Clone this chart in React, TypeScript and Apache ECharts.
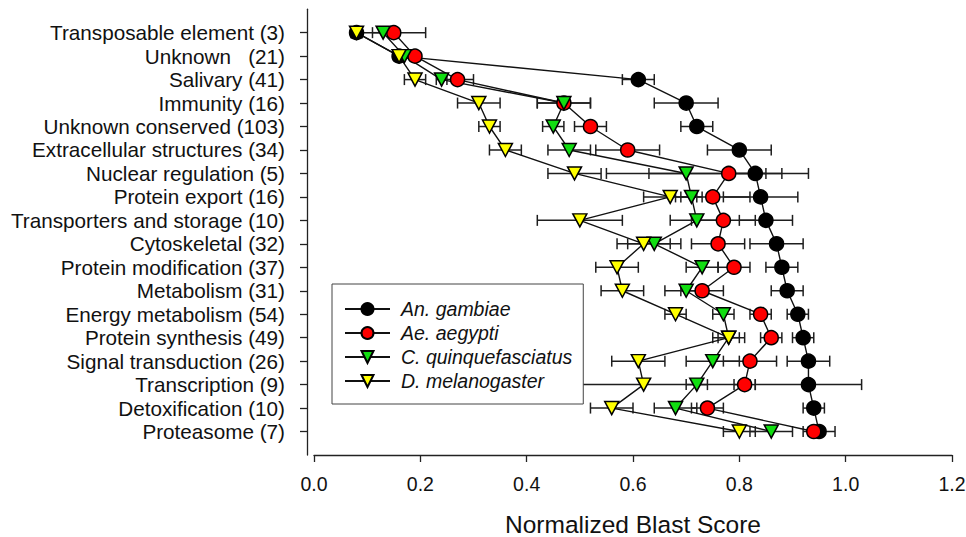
import React, { useEffect, useRef } from 'react';
import * as echarts from 'echarts';

const categories = [
  'Transposable element (3)',
  'Unknown   (21)',
  'Salivary (41)',
  'Immunity (16)',
  'Unknown conserved (103)',
  'Extracellular structures (34)',
  'Nuclear regulation (5)',
  'Protein export (16)',
  'Transporters and storage (10)',
  'Cytoskeletal (32)',
  'Protein modification (37)',
  'Metabolism (31)',
  'Energy metabolism (54)',
  'Protein synthesis (49)',
  'Signal transduction (26)',
  'Transcription (9)',
  'Detoxification (10)',
  'Proteasome (7)',
];

const seriesNames = ['An. gambiae', 'Ae. aegypti', 'C. quinquefasciatus', 'D. melanogaster'];

const gambiae = [0.08, 0.16, 0.61, 0.70, 0.72, 0.80, 0.83, 0.84, 0.85, 0.87, 0.88, 0.89, 0.91, 0.92, 0.93, 0.93, 0.94, 0.95];
const gambiaeErr = [0.01, 0, 0.03, 0.06, 0.03, 0.06, 0.05, 0.07, 0.05, 0.05, 0.03, 0.03, 0.02, 0.02, 0.04, 0.10, 0.02, 0.03];

const aegypti = [0.15, 0.19, 0.27, 0.47, 0.52, 0.59, 0.78, 0.75, 0.77, 0.76, 0.79, 0.73, 0.84, 0.86, 0.82, 0.81, 0.74, 0.94];
const aegyptiErr = [0.06, 0, 0.03, 0.05, 0.03, 0.06, 0.15, 0.07, 0.06, 0.05, 0.03, 0.04, 0.02, 0.02, 0.05, 0.02, 0.03, 0.01];

const quinque = [0.13, 0.17, 0.24, 0.47, 0.45, 0.48, 0.70, 0.71, 0.72, 0.64, 0.73, 0.70, 0.77, 0.78, 0.75, 0.72, 0.68, 0.86];
const quinqueErr = [0.02, 0, 0.01, 0.05, 0.02, 0.04, 0.15, 0.02, 0.05, 0.05, 0.03, 0.04, 0.02, 0.02, 0.05, 0.02, 0.04, 0.04];

const melano = [0.08, 0.16, 0.19, 0.31, 0.33, 0.36, 0.49, 0.67, 0.50, 0.62, 0.57, 0.58, 0.68, 0.78, 0.61, 0.62, 0.56, 0.80];
const melanoErr = [0.01, 0, 0.02, 0.04, 0.02, 0.03, 0.05, 0.05, 0.08, 0.05, 0.04, 0.04, 0.02, 0.03, 0.05, 0.20, 0.04, 0.03];

const xTicks = [0, 0.2, 0.4, 0.6, 0.8, 1.0, 1.2];

const FONT = '"Liberation Sans", Arial, Helvetica, sans-serif';
const AXIS = '#222';
const TEXT = '#111';

export default function App() {
  const ref = useRef<HTMLDivElement>(null);

  useEffect(() => {
    document.body.style.margin = '0';
    const chart = echarts.init(ref.current!, null, { renderer: 'svg' });
    const rows = categories.map((_, i) => i + 1);
    const pts = (vals: number[]) => vals.map((v, i) => [v, i + 1]);
    const errData = (vals: number[], errs: number[]) => vals.map((v, i) => [v, i + 1, errs[i]]);

    const errSeries = (name: string, vals: number[], errs: number[]) => ({
      type: 'custom',
      name,
      data: errData(vals, errs),
      encode: { x: 0, y: 1 },
      z: 1,
      silent: true,
      renderItem: (_params: any, api: any) => {
        const x = api.value(0);
        const y = api.value(1);
        const e = api.value(2);
        if (!e) return { type: 'group', children: [] };
        const p1 = api.coord([x - e, y]);
        const p2 = api.coord([x + e, y]);
        const h = 5.5;
        const style = { stroke: '#1e1e1e', lineWidth: 1.5 };
        return {
          type: 'group',
          children: [
            { type: 'line', shape: { x1: p1[0], y1: p1[1], x2: p2[0], y2: p2[1] }, style },
            { type: 'line', shape: { x1: p1[0], y1: p1[1] - h, x2: p1[0], y2: p1[1] + h }, style },
            { type: 'line', shape: { x1: p2[0], y1: p2[1] - h, x2: p2[0], y2: p2[1] + h }, style },
          ],
        };
      },
    });

    const lineSeries = (name: string, vals: number[], fill: string, symbol: string) => ({
      type: 'line',
      name,
      data: pts(vals),
      symbol,
      symbolSize: symbol === 'circle' ? 14 : [14, 13],
      symbolRotate: symbol === 'circle' ? 0 : 180,
      showAllSymbol: true,
      z: 3,
      lineStyle: { color: '#111', width: 1.4 },
      itemStyle: { color: fill, borderColor: '#000', borderWidth: 1.5 },
      emphasis: { disabled: true },
    });

    const option: any = {
      animation: false,
      grid: { left: 314, top: 9.2, width: 638, height: 445.8, outerBoundsMode: 'none' },
      legend: {
        data: seriesNames,
        orient: 'vertical',
        left: 332,
        top: 284,
        backgroundColor: '#fff',
        borderColor: '#444',
        borderWidth: 1,
        borderRadius: 0,
        padding: [15, 11, 13, 12],
        itemWidth: 45,
        itemHeight: 15,
        itemGap: 4,
        selectedMode: false,
        textStyle: {
          fontFamily: FONT,
          fontSize: 19.5,
          fontStyle: 'italic',
          color: TEXT,
          padding: [0, 0, 0, 6],
        },
      },
      xAxis: {
        type: 'value',
        min: 0,
        max: 1.2,
        interval: 0.2,
        position: 'bottom',
        splitLine: { show: false },
        axisLine: { show: true, onZero: false, lineStyle: { color: AXIS, width: 1.3 } },
        axisTick: { show: true, length: 7, lineStyle: { color: AXIS, width: 1.3 } },
        axisLabel: {
          customValues: xTicks,
          formatter: (v: number) => v.toFixed(1),
          fontFamily: FONT,
          fontSize: 19.5,
          color: TEXT,
          margin: 19,
        },
        name: 'Normalized Blast Score',
        nameLocation: 'middle',
        nameGap: 57,
        nameTextStyle: { fontFamily: FONT, fontSize: 24.5, color: TEXT },
      },
      yAxis: {
        type: 'value',
        min: 0,
        max: 19,
        inverse: true,
        offset: 7,
        splitLine: { show: false },
        axisLine: { show: true, onZero: false, lineStyle: { color: AXIS, width: 1.3 } },
        axisTick: { show: true, length: 7, customValues: rows, lineStyle: { color: AXIS, width: 1.3 } },
        axisLabel: {
          customValues: rows,
          formatter: (v: number) => categories[Math.round(v) - 1] ?? '',
          fontFamily: FONT,
          fontSize: 20.7,
          color: TEXT,
          margin: 22,
        },
      },
      series: [
        errSeries('err1', gambiae, gambiaeErr),
        errSeries('err2', aegypti, aegyptiErr),
        errSeries('err3', quinque, quinqueErr),
        errSeries('err4', melano, melanoErr),
        lineSeries(seriesNames[0], gambiae, '#000000', 'circle'),
        lineSeries(seriesNames[1], aegypti, '#ff0000', 'circle'),
        lineSeries(seriesNames[2], quinque, '#11dd11', 'triangle'),
        lineSeries(seriesNames[3], melano, '#ffff00', 'triangle'),
      ],
    };

    chart.setOption(option);
    return () => chart.dispose();
  }, []);

  return <div ref={ref} style={{ width: 966, height: 537 }} />;
}
